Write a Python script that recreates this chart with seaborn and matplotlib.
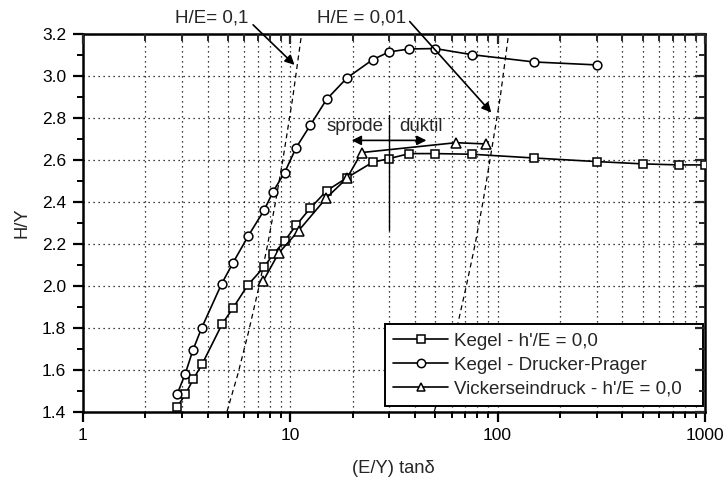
import numpy as np
import pandas as pd
import matplotlib
matplotlib.use("Agg")
import matplotlib.pyplot as plt
import seaborn as sns

# ---- data ----
kegel_x = [2.86, 3.13, 3.42, 3.77, 4.70, 5.31, 6.25, 7.47, 8.28, 9.40, 10.7, 12.5,
           15.0, 18.8, 25.0, 30.0, 37.5, 50.0, 75.0, 150, 300, 500, 750, 1000]
kegel_y = [1.424, 1.484, 1.557, 1.628, 1.818, 1.895, 2.004, 2.089, 2.150, 2.214, 2.290, 2.370,
           2.454, 2.516, 2.590, 2.607, 2.631, 2.631, 2.628, 2.610, 2.593, 2.582, 2.577, 2.577]

dp_x = [2.86, 3.12, 3.40, 3.74, 4.67, 5.31, 6.28, 7.50, 8.28, 9.40, 10.7, 12.5,
        15.0, 18.8, 25.0, 30.0, 37.5, 50.0, 75.0, 150, 300]
dp_y = [1.486, 1.580, 1.694, 1.798, 2.009, 2.111, 2.238, 2.362, 2.450, 2.540, 2.660, 2.766,
        2.890, 2.992, 3.079, 3.116, 3.130, 3.132, 3.103, 3.068, 3.054]

vick_x = [7.40, 8.80, 11.0, 14.9, 18.8, 22.1, 63.0, 88.0]
vick_y = [2.022, 2.156, 2.264, 2.418, 2.514, 2.636, 2.683, 2.677]

# reference lines H/E = const
he01_x = [4.96, 5.6, 6.3, 7.09, 7.8, 8.5, 9.22, 10.3, 11.35]
he01_y = [1.40, 1.58, 1.78, 2.00, 2.20, 2.40, 2.60, 2.90, 3.20]
he001_x = [49.5, 56, 63, 70.7, 78, 85, 91.9, 103, 113]
he001_y = [1.40, 1.58, 1.78, 2.00, 2.20, 2.40, 2.60, 2.90, 3.20]

series_names = ["Kegel - h'/E = 0,0", "Kegel - Drucker-Prager", "Vickerseindruck - h'/E = 0,0"]
x_ticks = [1, 10, 100, 1000]
x_ticklabels = ["1", "10", "100", "1000"]
y_ticks = [1.4, 1.6, 1.8, 2.0, 2.2, 2.4, 2.6, 2.8, 3.0, 3.2]

# ---- styling ----
sns.set_theme(style="white")
plt.rcParams["font.family"] = ["Liberation Sans", "DejaVu Sans"]

fig = plt.figure(figsize=(7.28, 4.79), dpi=100)
ax = fig.add_axes([0.1136, 0.1405, 0.8548, 0.7879])
ax.set_xscale("log")

# dashed reference lines
ax.plot(he01_x, he01_y, ls=(0, (4, 3)), color="black", lw=0.9, zorder=2)
ax.plot(he001_x, he001_y, ls=(0, (4, 3)), color="black", lw=0.9, zorder=2)

df_k = pd.DataFrame({"x": kegel_x, "y": kegel_y})
df_d = pd.DataFrame({"x": dp_x, "y": dp_y})
df_v = pd.DataFrame({"x": vick_x, "y": vick_y})

common = dict(color="black", lw=1.2, markersize=6.3, markerfacecolor="white",
              markeredgecolor="black", markeredgewidth=1.1, sort=False, zorder=3)
sns.lineplot(data=df_k, x="x", y="y", marker="s", label=series_names[0], ax=ax, **common)
sns.lineplot(data=df_d, x="x", y="y", marker="o", label=series_names[1], ax=ax, **common)
sns.lineplot(data=df_v, x="x", y="y", marker="^", label=series_names[2], ax=ax,
             **{**common, "markersize": 6.8})

ax.set_xlim(1, 1000)
ax.set_ylim(1.4, 3.2)
ax.set_xticks(x_ticks)
ax.set_xticklabels(x_ticklabels)
ax.set_yticks(y_ticks)
ax.set_yticklabels([f"{v:.1f}" for v in y_ticks])
ax.yaxis.set_minor_locator(matplotlib.ticker.MultipleLocator(0.1))
ax.xaxis.set_minor_locator(matplotlib.ticker.LogLocator(base=10, subs=np.arange(2, 10)))
ax.xaxis.set_minor_formatter(matplotlib.ticker.NullFormatter())

ax.grid(True, which="major", axis="both", ls=(0, (1, 3)), color="black", lw=0.9)
ax.grid(True, which="minor", axis="x", ls=(0, (1, 3)), color="black", lw=0.9)
ax.set_axisbelow(True)

for s in ax.spines.values():
    s.set_linewidth(1.8)
    s.set_color("black")

ax.tick_params(which="major", direction="out", length=7, width=1.6, colors="black",
               labelsize=12.5, pad=5, bottom=True, left=True, top=False, right=False)
ax.tick_params(which="minor", direction="out", length=4, width=1.4, colors="black",
               bottom=True, left=True, top=False, right=False)

# inward ticks on top and right
axt = ax.twiny()
axt.set_xscale("log")
axt.set_xlim(1, 1000)
axt.set_xticks(x_ticks)
axt.xaxis.set_minor_locator(matplotlib.ticker.LogLocator(base=10, subs=np.arange(2, 10)))
axt.tick_params(which="major", direction="in", length=7, width=1.6, labeltop=False)
axt.tick_params(which="minor", direction="in", length=5, width=1.4, labeltop=False)
axt.xaxis.set_minor_formatter(matplotlib.ticker.NullFormatter())
axt.grid(False)
axr = ax.twinx()
axr.set_ylim(1.4, 3.2)
axr.set_yticks(y_ticks)
axr.yaxis.set_minor_locator(matplotlib.ticker.MultipleLocator(0.1))
axr.tick_params(which="major", direction="in", length=7, width=1.6, labelright=False)
axr.tick_params(which="minor", direction="in", length=4, width=1.4, labelright=False)
axr.grid(False)
for a in (axt, axr):
    for s in a.spines.values():
        s.set_visible(False)

ax.set_xlabel("(E/Y) tan\u03b4", fontsize=13.2, labelpad=12)
ax.set_ylabel("H/Y", fontsize=13.2, labelpad=8)

# annotations
arrowprops = dict(arrowstyle="-|>", color="black", lw=1.2, mutation_scale=14, shrinkA=0, shrinkB=0)
ax.annotate("", xy=(10.5, 3.054), xytext=(6.63, 3.245), arrowprops=arrowprops,
            annotation_clip=False, zorder=5)
ax.text(4.18, 3.278, "H/E= 0,1", fontsize=13.5, ha="center", va="center", clip_on=False)
ax.annotate("", xy=(93.3, 2.827), xytext=(37.7, 3.261), arrowprops=arrowprops,
            annotation_clip=False, zorder=5)
ax.text(22.2, 3.278, "H/E = 0,01", fontsize=13.5, ha="center", va="center", clip_on=False)

ax.plot([30, 30], [2.267, 2.816], color="black", lw=1.0, zorder=4)
ax.annotate("", xy=(19.8, 2.694), xytext=(30, 2.694), arrowprops=arrowprops, zorder=5)
ax.annotate("", xy=(45.4, 2.694), xytext=(30, 2.694), arrowprops=arrowprops, zorder=5)
ax.text(20.5, 2.758, "spr\u00f6de", fontsize=13.5, ha="center", va="center")
ax.text(42.6, 2.758, "duktil", fontsize=13.5, ha="center", va="center")

leg = ax.legend(loc="lower left", bbox_to_anchor=(0.4858, 0.016, 0.511, 0.2), mode="expand",
                fontsize=13.5, frameon=True, fancybox=False,
                edgecolor="black", framealpha=1, handlelength=2.9, handletextpad=0.35,
                borderpad=0.45, labelspacing=0.35, borderaxespad=0.0)
leg.get_frame().set_linewidth(1.4)
leg.set_zorder(10)
for h in leg.get_lines():
    h.set_markersize(6)

fig.savefig("out.png", dpi=100, facecolor="white")
